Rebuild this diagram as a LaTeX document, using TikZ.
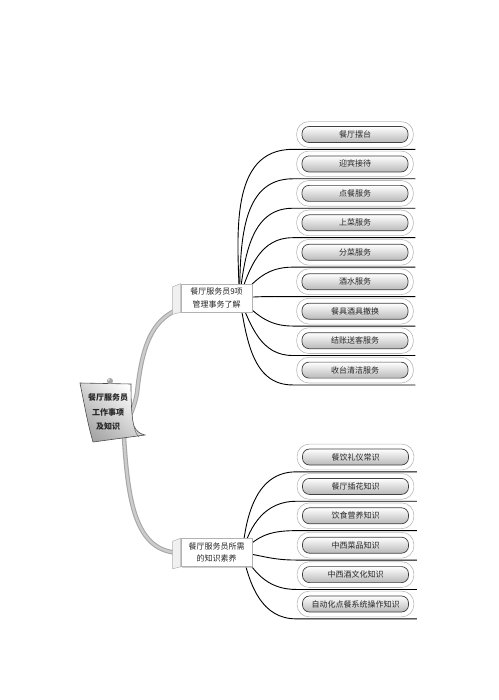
\documentclass[tikz,border=0pt]{standalone}
\usepackage{fontspec}
\newfontfamily\cjk{Noto Sans CJK SC}
\usetikzlibrary{shadows,backgrounds,calc}
\begin{document}
\begin{tikzpicture}[x=1pt,y=-1pt,
  inbox/.style={draw=black!75, line width=0.7pt, rounded corners=7pt, top color=white, bottom color=gray!55,
    minimum width=106pt, minimum height=16pt, inner sep=0pt, font=\cjk\fontsize{8}{9}\selectfont, text=black!85},
  outbox/.style={draw=gray!55, line width=0.6pt, rounded corners=12pt},
  conn/.style={draw=black, line width=0.9pt},
  stemout/.style={draw=gray!70, line width=4.5pt, line cap=round},
  stemin/.style={draw=gray!40, line width=2.4pt, line cap=round},
  hub/.style={draw=gray!60, fill=white, line width=0.6pt, minimum width=71pt, minimum height=28pt, inner sep=1pt,
    align=center, font=\cjk\fontsize{8}{12.5}\selectfont, text=black!85,
    drop shadow={shadow xshift=1.2pt, shadow yshift=-1.2pt, fill=gray!60, opacity=0.6}},
  side/.style={draw=gray!60, fill=gray!12, line width=0.5pt},
  paper/.style={draw=black!70, line width=0.6pt, top color=white, middle color=white, bottom color=gray!70, shading angle=-40},
  notetext/.style={align=center, font=\cjk\bfseries\fontsize{8}{14.5}\selectfont, text=black!85}
]
\useasboundingbox (0,0) rectangle (498,700);

% central note
\draw[paper] (80,383) -- (131,384) .. controls (131,405) and (132,420) .. (134,426)
  .. controls (136,431) and (140,434) .. (145,435) -- (93,442)
  .. controls (88,425) and (84,403) .. (80,383) -- cycle;
\draw[black!60, line width=0.5pt] (134,426) .. controls (135,432) and (137,435) .. (139,437);
\fill[gray!70] (110,381) circle (3);
\fill[gray!35] (108.8,379.8) circle (1.3);
\node[notetext] (note) at (108,412) {餐厅服务员\\工作事项\\及知识};

% hubs
\node[hub] (h1) at (216.5,298) {餐厅服务员9项\\管理事务了解};
\node[hub] (h2) at (216.5,552.5) {餐厅服务员所需\\的知识素养};
\draw[side] (h1.north west) -- ([shift={(-8,3)}]h1.north west) -- ([shift={(-8,2)}]h1.south west) -- (h1.south west) -- cycle;
\draw[side] (h2.north west) -- ([shift={(-8,3)}]h2.north west) -- ([shift={(-8,2)}]h2.south west) -- (h2.south west) -- cycle;
\coordinate (o1) at ([xshift=23]h1.center);
\coordinate (o2) at ([xshift=26]h2.center);

% top boxes
\foreach \i/\t in {1/餐厅摆台,2/迎宾接待,3/点餐服务,4/上菜服务,5/分菜服务,6/酒水服务,7/餐具酒具撤换,8/结账送客服务,9/收台清洁服务}{
  \node[inbox] (t\i) at (355,{134.5+29.45*(\i-1)}) {\t};
  \draw[outbox] ([shift={(-5,-4.5)}]t\i.north west) rectangle ([shift={(5,4.5)}]t\i.south east);
}
% bottom boxes
\foreach \i/\t in {1/餐饮礼仪常识,2/餐厅插花知识,3/饮食营养知识,4/中西菜品知识,5/中西酒文化知识,6/自动化点餐系统操作知识}{
  \node[inbox] (b\i) at (355.5,{457+29.4*(\i-1)}) {\t};
  \draw[outbox] ([shift={(-5,-4.5)}]b\i.north west) rectangle ([shift={(5,4.5)}]b\i.south east);
}

\begin{scope}[on background layer]
\fill[white] (0,0) rectangle (498,700);
% stem
\coordinate (sA) at ([shift={(-5,-2)}]h1.south west);
\coordinate (sB) at ([shift={(-6,0)}]h2.west);
\foreach \s in {stemout,stemin}{
  \draw[\s] (sA) .. controls (152,322) and (142,345) .. (137,393)
    .. controls (133,415) and (125,420) .. (124,438)
    .. controls (128,500) and (135,548) .. (sB);
}
% top connectors
\foreach \i/\a in {1/92,2/89,3/83,4/72,5/50,6/5,7/-45,8/-68,9/-80}{
  \pgfmathsetmacro\yl{134.5+29.45*(\i-1)+14.5}
  \pgfmathsetmacro\dd{0.4*veclen(293-239.5,\yl-298)}
  \draw[conn] (o1) .. controls +({\dd*cos(\a)},{-\dd*sin(\a)}) and +(-\dd,0) .. ([shift={(-9,6.5)}]t\i.south west) -- ([shift={(7,6.5)}]t\i.south east);
}
% bottom connectors
\foreach \i/\a in {1/85,2/75,3/50,4/-10,5/-60,6/-78}{
  \pgfmathsetmacro\yl{457+29.4*(\i-1)+14.5}
  \pgfmathsetmacro\dd{0.4*veclen(297-242.5,\yl-552.5)}
  \draw[conn] (o2) .. controls +({\dd*cos(\a)},{-\dd*sin(\a)}) and +(-\dd,0) .. ([shift={(-6,6.5)}]b\i.south west) -- ([shift={(8,6.5)}]b\i.south east);
}
\end{scope}
\end{tikzpicture}
\end{document}
